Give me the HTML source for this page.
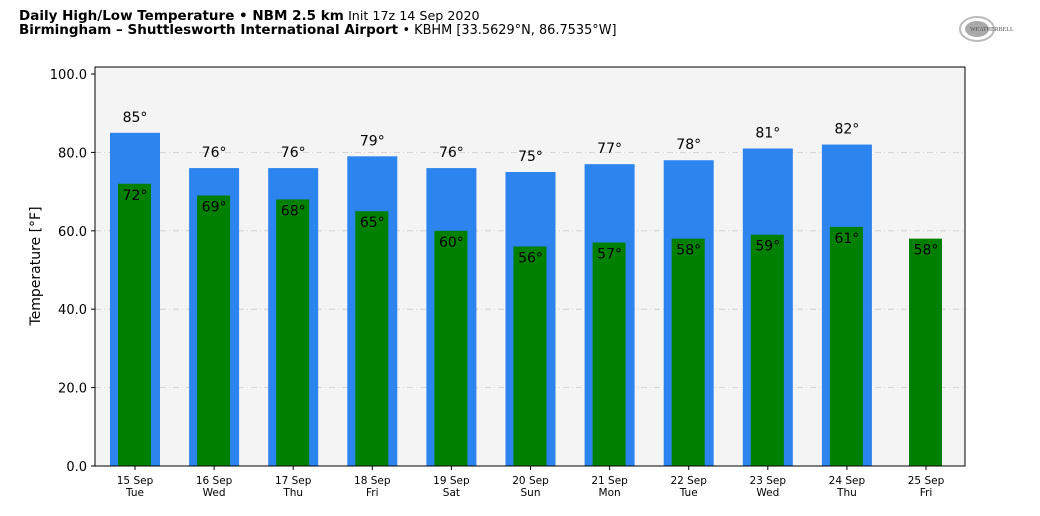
<!DOCTYPE html>
<html><head><meta charset="utf-8">
<style>
body{margin:0;background:#fff;width:1040px;height:516px;overflow:hidden;font-family:"DejaVu Sans","Liberation Sans",sans-serif;}
.t{position:absolute;left:19px;font-size:13.5px;color:#000;white-space:nowrap}
</style></head><body>
<div class="t" style="top:8px"><b>Daily High/Low Temperature • NBM 2.5 km</b> <span style="font-size:12.7px">Init 17z 14 Sep 2020</span></div>
<div class="t" style="top:22px"><b>Birmingham – Shuttlesworth International Airport</b> <span style="font-size:12.9px">• KBHM [33.5629°N, 86.7535°W]</span></div>
<svg id="c" width="1040" height="516" style="position:absolute;left:0;top:0">
<g>
<ellipse cx="977" cy="29" rx="17" ry="12" fill="none" stroke="#bbb" stroke-width="2"/>
<ellipse cx="977" cy="29" rx="12" ry="8" fill="#aaa"/>
<text x="970" y="31" font-size="6" fill="#555" font-family="Liberation Serif">WEATHERBELL</text>
</g>
</svg>
<script>
const dates=["15 Sep","16 Sep","17 Sep","18 Sep","19 Sep","20 Sep","21 Sep","22 Sep","23 Sep","24 Sep","25 Sep"];
const days=["Tue","Wed","Thu","Fri","Sat","Sun","Mon","Tue","Wed","Thu","Fri"];
const highs=[85,76,76,79,76,75,77,78,81,82,null];
const lows=[72,69,68,65,60,56,57,58,59,61,58];
const yTicks=[0,20,40,60,80,100];
const NS="http://www.w3.org/2000/svg";
const svg=document.getElementById('c');
const L=95,R=965,T=67,B=466;
const y=v=>466-v*3.92;
const x=i=>135+i*79.1;
function mk(t,a,p){const e=document.createElementNS(NS,t);for(const k in a)e.setAttribute(k,a[k]);(p||svg).appendChild(e);return e;}
mk('rect',{x:L,y:T,width:R-L,height:B-T,fill:'#f4f4f4'});
yTicks.forEach(v=>{
 if(v>0&&v<100){const g=mk('line',{x1:L,x2:R,y1:y(v),y2:y(v),stroke:'#ccc','stroke-dasharray':'6,3,1,3','stroke-width':0.8});
 
 }
 mk('line',{x1:L-4,x2:L,y1:y(v),y2:y(v),stroke:'#000'});
 const t=mk('text',{x:L-8,y:y(v)+5,'text-anchor':'end','font-size':13});
 t.textContent=v.toFixed(1);
 
 
});
dates.forEach((d,i)=>{
 const cx=x(i);
 if(highs[i]!=null){
  const b=mk('rect',{x:cx-25,y:y(highs[i]),width:50,height:B-y(highs[i]),fill:'#2c84ee'});
  
  
  const t=mk('text',{x:cx,y:y(highs[i])-11,'text-anchor':'middle','font-size':14});
  t.textContent=highs[i]+'°';
  
  
 }
 const g=mk('rect',{x:cx-17,y:y(lows[i]),width:33,height:B-y(lows[i]),fill:'#008000'});
 
 
 const t=mk('text',{x:cx,y:y(lows[i])+16,'text-anchor':'middle','font-size':14});
 t.textContent=lows[i]+'°';
 
 
 mk('line',{x1:cx,x2:cx,y1:B,y2:B+4,stroke:'#000'});
 const a=mk('text',{x:cx,y:484,'text-anchor':'middle','font-size':10.5});a.textContent=d;
 
 
 const b2=mk('text',{x:cx,y:496,'text-anchor':'middle','font-size':10.5});b2.textContent=days[i];
 
 
});
const f=mk('rect',{x:L,y:T,width:R-L,height:B-T,fill:'none',stroke:'#000','stroke-width':1});


const yl=mk('text',{x:0,y:0,transform:'translate(40,266) rotate(-90)','text-anchor':'middle','font-size':14});
yl.textContent='Temperature [°F]';


</script>
</body></html>
